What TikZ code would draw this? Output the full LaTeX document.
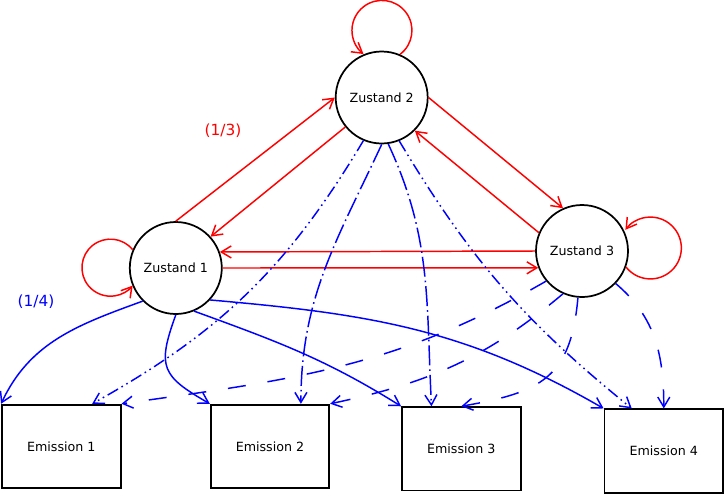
\documentclass[tikz,border=0pt]{standalone}
\usepackage{fontspec}
\setmainfont{DejaVu Sans}
\usepackage{tikz}
\usetikzlibrary{arrows.meta}

\begin{document}
\begin{tikzpicture}[
  x=0.75pt, y=-0.75pt,
  zustand/.style={circle,draw,line width=1.3pt,minimum size=69pt,inner sep=0pt,font=\fontsize{9.5}{11}\selectfont},
  emission/.style={rectangle,draw,line width=1.3pt,minimum width=89pt,minimum height=62.5pt,inner sep=0pt,font=\fontsize{9.5}{11}\selectfont},
  uebergang/.style={red,line width=1.1pt,-{Straight Barb[length=7.5pt,width=9pt]}},
  ausgabe/.style={blue,line width=1.1pt,-{Straight Barb[length=7.5pt,width=9pt]}},
  strichpunkt/.style={dash pattern=on 15pt off 3pt on 1.2pt off 3pt},
  strichpunktpunkt/.style={dash pattern=on 9pt off 3pt on 1.2pt off 3pt on 1.2pt off 3pt},
  langstrich/.style={dash pattern=on 13.5pt off 16.5pt},
  wahrsch/.style={font=\fontsize{11.5}{13}\selectfont}
]
\useasboundingbox (0,0) rectangle (725,494);

\node[zustand] (z1) at (175.8,268) {Zustand 1};
\node[zustand] (z2) at (381.7,97.5) {Zustand 2};
\node[zustand] (z3) at (582,251) {Zustand 3};

\node[emission] (e1) at (61.3,446.3) {Emission 1};
\node[emission] (e2) at (270,446.3) {Emission 2};
\node[emission] (e3) at (461.3,448.8) {Emission 3};
\node[emission] (e4) at (663.8,451) {Emission 4};

\node[wahrsch,text=red] (p13) at (223,131) {(1/3)};
\node[wahrsch,text=blue] (p14) at (36,302) {(1/4)};

\draw[uebergang] (z1.90) -- (z2.180);
\draw[uebergang] (z2.219) -- (z1.42);
\draw[uebergang] (z2.0) -- (z3.114);
\draw[uebergang] (z3.157) -- (z2.315);
\draw[uebergang] (z3.180) -- (z1.20);
\draw[uebergang] (z1.0) -- (z3.201);
\draw[uebergang] (z2.67) arc[start angle=-53,end angle=232,radius=22.5pt];
\draw[uebergang] (z1.157) arc[start angle=39,end angle=321,radius=21.4pt];
\draw[uebergang] (z3.340) arc[start angle=218,end angle=504,radius=23.2pt];

\draw[ausgabe] (z1.225) to[out=200,in=65] (e1.north west);
\draw[ausgabe] (z1.270) to[out=250,in=150,looseness=1.5] (e2.north west);
\draw[ausgabe] (z1.293) to[out=340,in=148] (e3.north west);
\draw[ausgabe] (z1.317) to[out=-5,in=150] (e4.north west);

\draw[ausgabe,strichpunktpunkt] (z2.247) to[bend left=15] (e1.54);
\draw[ausgabe,strichpunkt] (z2.270) to[out=245,in=90] (e2.54);
\draw[ausgabe,strichpunkt] (z2.278) to[out=295,in=93] (e3.125);
\draw[ausgabe,strichpunktpunkt] (z2.292) to[bend right=10] (e4.127);

\draw[ausgabe,langstrich] (z3.220) to[out=210,in=8] (e1.north east);
\draw[ausgabe,langstrich] (z3.246) to[out=220,in=12] (e2.north east);
\draw[ausgabe,langstrich] (z3.265) to[out=265,in=10,looseness=1.3] (e3.north);
\draw[ausgabe,langstrich] (z3.316) to[out=320,in=90] (e4.north);
\end{tikzpicture}
\end{document}
